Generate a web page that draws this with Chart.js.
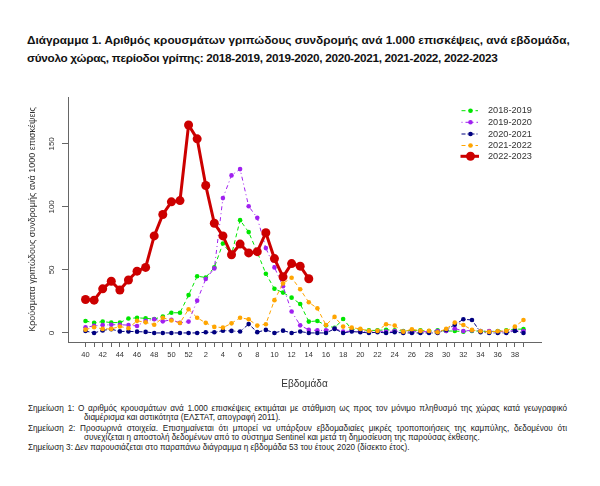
<!DOCTYPE html>
<html>
<head>
<meta charset="utf-8">
<script src="https://cdn.jsdelivr.net/npm/chart.js@4"></script>
<style>
  body { margin:0; background:#fff; width:600px; height:486px; position:relative; overflow:hidden; }
  .ttl { position:absolute; left:27px; font:bold 11.75px "Liberation Sans", Arial, sans-serif; color:#111; white-space:nowrap; }
  .note { position:absolute; font:8.2px "Liberation Sans", Arial, sans-serif; color:#222; white-space:nowrap; }
  .just { text-align:justify; text-align-last:justify; }
  #wrap { position:absolute; left:0; top:90px; width:600px; height:300px; }
</style>
</head>
<body>
<div class="ttl" style="top:33px">Διάγραμμα 1. Αριθμός κρουσμάτων γριπώδους συνδρομής ανά 1.000 επισκέψεις, ανά εβδομάδα,</div>
<div class="ttl" style="top:51px; letter-spacing:-0.3px">σύνολο χώρας, περίοδοι γρίπης: 2018-2019, 2019-2020, 2020-2021, 2021-2022, 2022-2023</div>
<div id="wrap"><canvas id="grafica" width="600" height="300"></canvas></div>
<div class="note just" style="left:28px; top:404px; width:539px">Σημείωση 1: Ο αριθμός κρουσμάτων ανά 1.000 επισκέψεις εκτιμάται με στάθμιση ως προς τον μόνιμο πληθυσμό της χώρας κατά γεωγραφικό</div>
<div class="note" style="left:84px; top:413px">διαμέρισμα και αστικότητα (ΕΛΣΤΑΤ, απογραφή 2011).</div>
<div class="note just" style="left:28px; top:424px; width:539px">Σημείωση 2: Προσωρινά στοιχεία. Επισημαίνεται ότι μπορεί να υπάρξουν εβδομαδιαίες μικρές τροποποιήσεις της καμπύλης, δεδομένου ότι</div>
<div class="note" style="left:84px; top:433px">συνεχίζεται η αποστολή δεδομένων από το σύστημα Sentinel και μετά τη δημοσίευση της παρούσας έκθεσης.</div>
<div class="note" style="left:28px; top:443px">Σημείωση 3: Δεν παρουσιάζεται στο παραπάνω διάγραμμα η εβδομάδα 53 του έτους 2020 (δίσεκτο έτος).</div>
<script>
// weeks 40..52 then 1..39
var weeks = [40,41,42,43,44,45,46,47,48,49,50,51,52,1,2,3,4,5,6,7,8,9,10,11,12,13,14,15,16,17,18,19,20,21,22,23,24,25,26,27,28,29,30,31,32,33,34,35,36,37,38,39];
var yTicks = [0, 50, 100, 150];
var seasons = ["2018-2019", "2019-2020", "2020-2021", "2021-2022", "2022-2023"];

var s1819 = [9.5,8,9,8.2,8.2,11.4,12,11.6,11,13,16,16,30,
  45,44,52,71,62,89.5,80,64,47,35,32,28,23,9,9.5,6,4,11,3,2.5,2,2,2.5,2,1.5,2,2,1.5,2,1.5,1.5,1,1.5,1.5,1,1.5,2,3,3];
var s1920 = [4.5,5.6,6.2,6.5,6.5,6.2,5.5,9.6,10.9,9.2,10.4,8,9,
  25.6,42.8,51.2,107,125,130,100.5,91.3,67.3,52,37,17,6,2.4,2,2,3.5,1,1.5,1,1,1.5,1,1.5,1,1,1,1,1.5,1.5,3.5,1.5,2,1.5,1.5,1,1,2,1.5];
var s2021 = [1.5,0,2,3,1.2,1.2,1,0.8,0,0,0,0,0,
  0,0.5,0.5,1.8,1.6,1.1,7,0.6,2.4,0,1.8,0,1.1,0,0,0,3.2,0,1.1,0.6,0,0.6,0,0.5,0,0,0,0,0,2.4,6.5,10.8,10.3,0.5,0,0,0,1.6,0];
var s2122 = [2.6,4.5,3.2,3.2,5.1,3.7,9.6,8.4,6.5,12.1,9.9,7.9,18.8,
  12,8,4.8,4.2,7.6,12.1,10.8,5.8,6.9,26,39.3,43.8,34.6,24.3,19.5,6.3,12.7,5,4.2,3.2,1.6,1.6,6.9,5.8,1,2.9,1.6,1.6,0.5,3.2,8.2,6.3,2.4,1.3,0.8,1.3,1.6,5,10.3];
var s2223 = [26.5,26,35,41,34,42,49,52,77,94,104,105,165,
  154,117,87,77,62,70.5,63.5,64.5,79.5,59,44.5,55,53,43];

function pts(arr) {
  var out = [];
  for (var i = 0; i < weeks.length; i++) {
    out.push({x: i, y: (i < arr.length) ? arr[i] : null});
  }
  return out;
}

function serie(label, arr, color, dash, order) {
  return {
    label: label, data: pts(arr), borderColor: color, backgroundColor: color,
    borderWidth: 1, borderDash: dash, pointRadius: 2.3, pointBorderWidth: 0,
    pointBackgroundColor: color, tension: 0, order: order, spanGaps: false
  };
}

var datasets = [
  serie(seasons[0], s1819, '#00E600', [4,3], 4),
  serie(seasons[1], s1920, '#A020F0', [1,3,4,3], 3),
  serie(seasons[2], s2021, '#000080', [4,2,1,2], 2),
  serie(seasons[3], s2122, '#FFA500', [4,3], 1),
  {
    label: seasons[4], data: pts(s2223), borderColor: '#CC0000', backgroundColor: '#CC0000',
    borderWidth: 3, pointRadius: 4.5, pointBorderWidth: 0, pointBackgroundColor: '#CC0000',
    tension: 0, order: 0
  }
];

var txt = '#333';
var axisCol = '#666';
var font = '"Liberation Sans", Arial, sans-serif';

var extras = {
  id: 'extras',
  afterDraw: function(chart) {
    var c = chart.ctx;
    var y = chart.scales.y;
    c.save();
    // y tick labels, rotated like R
    c.fillStyle = txt;
    c.font = '8px ' + font;
    c.textAlign = 'center';
    c.textBaseline = 'middle';
    yTicks.forEach(function(v) {
      c.save();
      c.translate(52, y.getPixelForValue(v));
      c.rotate(-Math.PI / 2);
      c.fillText(String(v), 0, 0);
      c.restore();
    });
    // legend inside the plot
    var rowY = [20.7, 32.3, 44, 55.5, 66.3];
    chart.data.datasets.forEach(function(ds, i) {
      var ly = rowY[i];
      c.strokeStyle = ds.borderColor;
      c.lineWidth = ds.borderWidth;
      c.setLineDash(ds.borderDash || []);
      c.beginPath();
      c.moveTo(i == 4 ? 460.5 : 461.5, ly);
      c.lineTo(i == 4 ? 479 : 478, ly);
      c.stroke();
      c.setLineDash([]);
      c.fillStyle = ds.borderColor;
      c.beginPath();
      c.arc(470.5, ly, ds.pointRadius, 0, Math.PI * 2);
      c.fill();
      c.fillStyle = txt;
      c.font = '9.2px ' + font;
      c.textAlign = 'left';
      c.fillText(ds.label, 488, ly);
    });
    c.restore();
  }
};

var graph = document.getElementById('grafica');
var lineChart = new Chart(graph, {
  type: 'line',
  data: { datasets: datasets },
  options: {
    responsive: false,
    animation: false,
    layout: { padding: { left: 27, right: 59, top: 7, bottom: 0 } },
    plugins: { legend: { display: false }, tooltip: { enabled: false } },
    scales: {
      x: {
        type: 'linear', min: -2.04, max: 53.04,
        afterBuildTicks: function(s) { s.ticks = weeks.map(function(w, i) { return {value: i}; }); },
        afterFit: function(s) { s.height = 48; },
        ticks: {
          autoSkip: false, maxRotation: 0, minRotation: 0, padding: 3, color: txt,
          font: { size: 7.5, family: font },
          callback: function(v) { return v % 2 === 0 ? String(weeks[v]) : ''; }
        },
        grid: { drawOnChartArea: false, tickLength: 5, color: axisCol },
        border: { color: axisCol },
        title: { display: true, text: 'Εβδομάδα', color: txt, font: { size: 10, family: font }, padding: 0 }
      },
      y: {
        type: 'linear', min: -7.2, max: 187.2,
        afterBuildTicks: function(s) { s.ticks = yTicks.map(function(v) { return {value: v}; }); },
        afterFit: function(s) { s.width = 41; },
        ticks: { display: false },
        grid: { drawOnChartArea: false, tickLength: 6, color: axisCol },
        border: { color: axisCol },
        title: { display: true, text: 'Κρούσματα γριπώδους συνδρομής ανά 1000 επισκέψεις', color: txt, font: { size: 9, family: font }, padding: 0 }
      }
    }
  },
  plugins: [extras]
});
</script>
</body>
</html>
